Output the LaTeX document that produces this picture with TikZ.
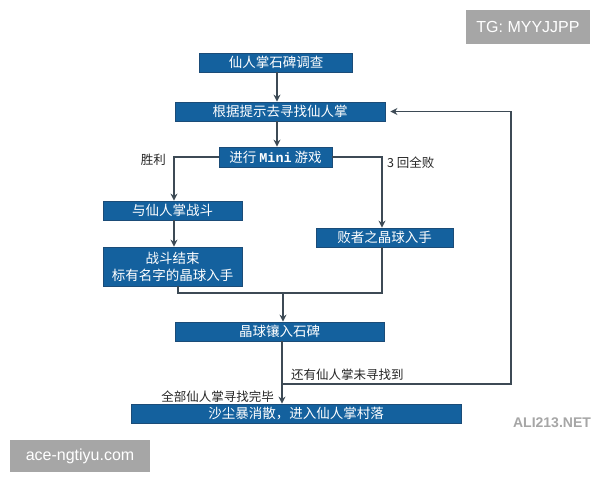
\documentclass[tikz,border=0pt]{standalone}
\usepackage{fontspec}
\setmainfont{Noto Sans CJK SC}
\newfontfamily\latinfont{Liberation Sans}
\newfontfamily\minifont{Liberation Mono}
\usetikzlibrary{arrows.meta}
\definecolor{boxblue}{HTML}{14619E}
\definecolor{boxedge}{HTML}{1B4C78}
\definecolor{flowline}{HTML}{3D4A55}
\definecolor{markgray}{HTML}{A6A6A6}
\tikzset{
  stepbox/.style={rectangle,fill=boxblue,draw=boxedge,line width=0.8pt,text=white,
    align=center,inner sep=0pt,font=\fontsize{13.5}{17}\selectfont},
  flow/.style={draw=flowline,line width=1.2pt},
  arr/.style={flow,-{Stealth[length=7pt,width=7pt]}},
  branchlbl/.style={font=\fontsize{12.5}{14}\selectfont,text=black!85,inner sep=1pt},
  markbox/.style={fill=markgray,text=white,inner sep=0pt,font=\latinfont\fontsize{16}{18}\selectfont}
}
\newcommand{\flowstep}[5][]{\node[stepbox,minimum width=#3,#1] at (#2) (#4) {#5}}

\begin{document}
\begin{tikzpicture}[x=1pt,y=-1pt]
	\useasboundingbox[fill=white] (0,0) rectangle (600,480);

	\flowstep[minimum height=19pt]{276,62.5}{153pt}{survey}{仙人掌石碑调查};
	\flowstep[minimum height=19pt]{280,111.5}{210pt}{search}{根据提示去寻找仙人掌};
	\flowstep[minimum height=20pt]{275.5,157}{113pt}{game}{进行 {\minifont\bfseries Mini} 游戏};
	\flowstep[minimum height=19pt]{172.5,210.5}{139pt}{fight}{与仙人掌战斗};
	\flowstep[minimum height=39pt]{172.5,266.5}{139pt}{result}{战斗结束\\标有名字的晶球入手};
	\flowstep[minimum height=19pt]{384.5,237.5}{137pt}{lose}{败者之晶球入手};
	\flowstep[minimum height=19pt]{279.5,331.5}{209pt}{embed}{晶球镶入石碑};
	\flowstep[minimum height=19pt]{296,413.5}{330pt}{village}{沙尘暴消散，进入仙人掌村落};

	\coordinate (join) at (283,293);
	\coordinate (loop) at (511,384);

	\draw[arr] (survey.south -| 277,0) -- (search.north -| 277,0);
	\draw[arr] (search.south -| 277,0) -- (game.north -| 277,0);
	\draw[arr] (game.west) -| (fight.north -| 174,0);
	\draw[arr] (game.east) -| (lose.north -| 382,0);
	\draw[arr] (fight.south -| 174,0) -- (result.north -| 174,0);
	\draw[flow] (result.south -| 178,0) |- (join) -| (lose.south -| 382,0);
	\draw[arr] (join) -- (join |- embed.north);
	\draw[arr] (embed.south -| 282,0) -- (village.north -| 282,0);
	\draw[arr] (loop -| 282,0) -- (loop) |- ([xshift=5pt]search.east);

	\node[branchlbl,anchor=east] (win) at (167,160) {胜利};
	\node[branchlbl,anchor=west] (defeat) at (386,163) {3 回全败};
	\node[branchlbl,anchor=south west] (more) at (290,382) {还有仙人掌未寻找到};
	\node[branchlbl,anchor=east] (done) at (275,397) {全部仙人掌寻找完毕};

	\node[markbox,minimum width=124pt,minimum height=34pt] (tg) at (528,27) {TG: MYYJJPP};
	\node[markbox,minimum width=140pt,minimum height=32pt] (site) at (80,456) {ace-ngtiyu.com};
	\node[font=\latinfont\bfseries\fontsize{14}{16}\selectfont,text=black!35] (ali) at (552,423) {ALI213.NET};
\end{tikzpicture}
\end{document}
